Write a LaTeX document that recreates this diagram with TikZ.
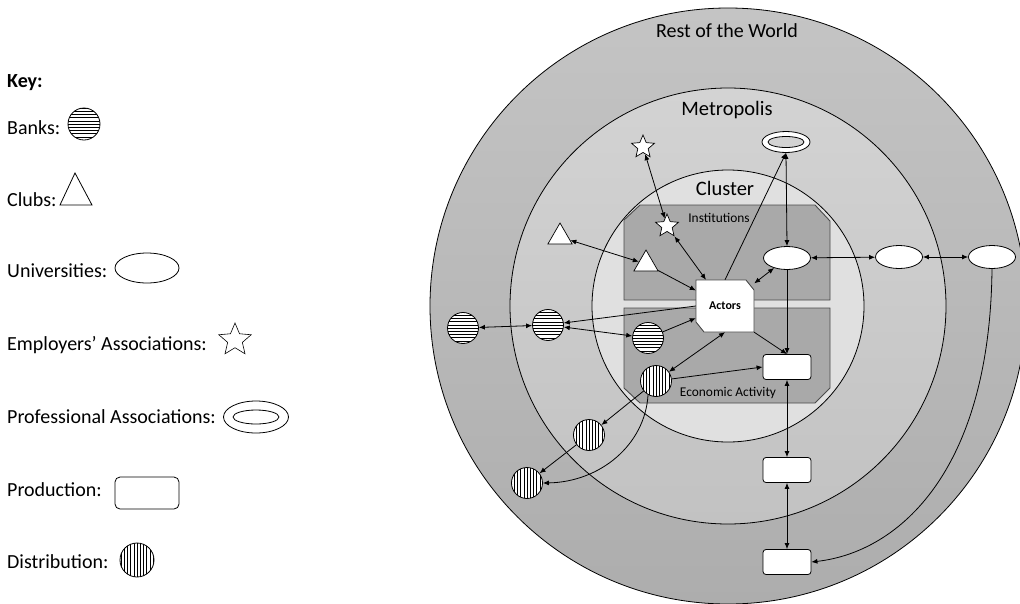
\documentclass[tikz,border=0pt]{standalone}
\usepackage{fontspec}
\setmainfont{Carlito}
\usetikzlibrary{shapes.geometric,arrows.meta}
\definecolor{ringAt}{HTML}{C4C4C4}
\definecolor{ringAb}{HTML}{ADADAD}
\definecolor{ringBt}{HTML}{D3D3D3}
\definecolor{ringBb}{HTML}{C2C2C2}
\definecolor{ringB}{HTML}{CDCDCD}
\definecolor{ringC}{HTML}{E0E0E0}
\definecolor{boxg}{HTML}{A9A9A9}
\definecolor{boxline}{HTML}{4A4A4A}
\tikzset{
  conn/.style={line width=0.8pt, black},
  arr/.style={conn,-{Latex[length=6pt,width=5pt]}},
  darr/.style={conn,{Latex[length=6pt,width=5pt]}-{Latex[length=6pt,width=5pt]}},
  bank/.style={circle, draw, line width=0.8pt, fill=white, inner sep=0pt, minimum size=#1,
    path picture={\foreach \i in {-12,...,12}{\draw[line width=0.6pt] ([yshift=\i*3.2pt]path picture bounding box.west) -- ([yshift=\i*3.2pt]path picture bounding box.east);}}},
  bank/.default=31pt,
  dist/.style={circle, draw, line width=0.8pt, fill=white, inner sep=0pt, minimum size=#1,
    path picture={\foreach \i in {-12,...,12}{\draw[line width=0.6pt] ([xshift=\i*3.2pt]path picture bounding box.north) -- ([xshift=\i*3.2pt]path picture bounding box.south);}}},
  dist/.default=31pt,
  univ/.style={ellipse, draw, line width=0.8pt, fill=white, inner sep=0pt, minimum width=47pt, minimum height=23pt},
  prod/.style={rectangle, rounded corners=3pt, draw, line width=0.8pt, fill=white, inner sep=0pt, minimum width=48pt, minimum height=25pt},
  empstar/.style={star, star points=5, star point ratio=2.2, draw, line width=0.7pt, fill=white, inner sep=0pt, minimum size=#1},
  empstar/.default=24pt,
  club/.style={regular polygon, regular polygon sides=3, draw, line width=0.7pt, fill=white, inner sep=0pt, minimum size=28pt},
  profa/.style={ellipse, draw, line width=0.8pt, fill=white, inner sep=0pt},
  keytext/.style={anchor=west, font=\fontsize{20}{22}\selectfont, inner sep=0pt},
  ringlabel/.style={font=\fontsize{20}{22}\selectfont, inner sep=0pt},
  boxlabel/.style={font=\fontsize{13.4}{15}\selectfont, inner sep=0pt},
}
\begin{document}
\begin{tikzpicture}[x=1pt,y=-1pt]
\useasboundingbox[fill=white] (0,0) rectangle (1020,603);
% rings
\shade[top color=ringAt, bottom color=ringAb] (728,306) circle (298);
\draw[line width=0.8pt] (728,306) circle (298);
\shade[top color=ringBt, bottom color=ringBb] (728,306) circle (218);
\draw[line width=0.8pt] (728,306) circle (218);
\fill[ringC] (728,306) circle (136);
\draw[line width=0.8pt] (728,306) circle (136);
% boxes
\draw[boxline, fill=boxg, line width=0.9pt] (624,300) -- (624,220) -- (640,205) -- (815,205) -- (830,221) -- (830,300) -- cycle;
\draw[boxline, fill=boxg, line width=0.9pt] (624,308) -- (830,308) -- (830,388) -- (815,403) -- (640,403) -- (624,388) -- cycle;
% ring labels
\node[ringlabel] (lrow) at (727,31) {Rest of the World};
\node[ringlabel, font=\fontsize{20.5}{22}\selectfont] (lmet) at (727,110) {Metropolis};
\node[ringlabel, font=\fontsize{20.5}{22}\selectfont] (lclu) at (725,188) {Cluster};
\node[boxlabel] (linst) at (719,218) {Institutions};
\node[boxlabel] (lecon) at (728,393) {Economic Activity};
% actors
\draw[boxline, fill=white, line width=0.9pt] (696,280) -- (746,280) -- (754,290) -- (754,332) -- (704,332) -- (696,322) -- cycle;
\node[rectangle, inner sep=0pt, minimum width=58pt, minimum height=52pt, font=\bfseries\fontsize{12}{14}\selectfont] (actors) at (725,306) {Actors};
% nodes
\node[empstar] (starO) at (643,147) {};
\node[empstar] (starI) at (667,226) {};
\node[club] (triO) at (560,237) {};
\node[club] (triI) at (646,264) {};
\node[profa, minimum width=48pt, minimum height=21pt] (prof) at (786,142) {};
\draw[line width=0.8pt, fill=ringBt] (prof.center) ellipse [x radius=18pt, y radius=5.5pt];
\node[univ] (univI) at (787,258) {};
\node[univ] (univM) at (899,257) {};
\node[univ] (univO) at (992,257) {};
\node[prod] (prodI) at (787,367) {};
\node[prod] (prodM) at (787,470) {};
\node[prod] (prodO) at (787,562) {};
\node[bank] (bankI) at (648,338) {};
\node[bank] (bankM) at (548,325) {};
\node[bank] (bankO) at (463,328) {};
\node[dist] (distI) at (656,381) {};
\node[dist] (distM) at (589,435) {};
\node[dist] (distO) at (527,483) {};
% connectors
\draw[darr] (starO) -- (starI);
\draw[darr] (starI) -- (actors);
\draw[darr] (triO) -- (triI);
\draw[arr] (triI) -- (actors);
\draw[arr] (actors.north) -- (prof.south);
\draw[darr] (prof.south) -- (univI.north);
\draw[darr] (actors) -- (univI);
\draw[darr] (univI) -- (univM);
\draw[darr] (univM) -- (univO);
\draw[arr] (univI.south) -- (prodI.north);
\draw[arr] (actors.south east) -- (prodI.north);
\draw[darr] (prodI) -- (prodM);
\draw[darr] (prodM) -- (prodO);
\draw[arr] (univO.south) .. controls (990,470) and (900,552) .. (prodO.east);
\draw[arr] (bankI) -- (actors);
\draw[arr] (actors.west) -- (bankM);
\draw[darr] (bankM) -- (bankI);
\draw[darr] (bankO) -- (bankM);
\draw[darr] (distI) -- (actors.south);
\draw[arr] (distI) -- (prodI.west);
\draw[arr] (distI) -- (distM);
\draw[arr] (distM) -- (distO);
\draw[arr] (distI.240) .. controls (645,445) and (600,482) .. (distO.east);
% key
\node[keytext, font=\bfseries\fontsize{20}{22}\selectfont] (kkey) at (7,83) {Key:};
\node[keytext] (kbank) at (7,128) {Banks:};
\node[bank=32pt] (kbanks) at (84,124) {};
\node[keytext] (kclub) at (7,200) {Clubs:};
\draw[line width=0.8pt] (60,205) -- (75,173) -- (92,205) -- cycle;
\node[keytext] (kuni) at (7,271) {Universities:};
\node[univ, minimum width=64pt, minimum height=30pt] (kunis) at (147,268) {};
\node[keytext] (kemp) at (7,345) {Employers’ Associations:};
\node[empstar=34pt, line width=0.6pt] (kemps) at (235,340) {};
\node[keytext] (kprof) at (7,417) {Professional Associations:};
\node[profa, minimum width=65pt, minimum height=32pt] (kprofs) at (256,417) {};
\draw[line width=0.8pt] (kprofs.center) ellipse [x radius=23pt, y radius=7pt];
\node[keytext] (kprod) at (7,490) {Production:};
\node[prod, minimum width=64pt, minimum height=32pt, rounded corners=5pt] (kprods) at (147,493) {};
\node[keytext] (kdist) at (7,562) {Distribution:};
\node[dist=34pt] (kdists) at (137,560) {};
\end{tikzpicture}
\end{document}
